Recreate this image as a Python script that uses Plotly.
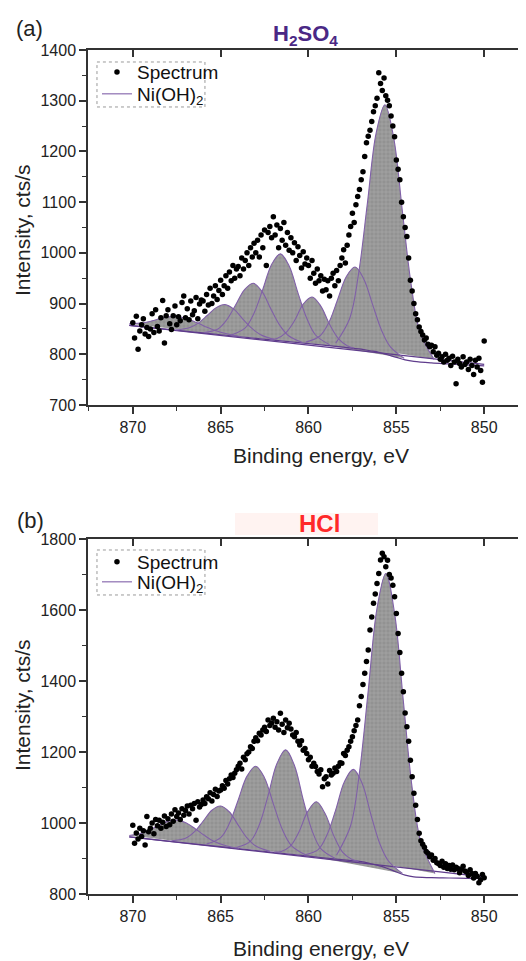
import numpy as np
import plotly.graph_objects as go

# ---------------- data ----------------
ENERGY = np.round(np.linspace(870.0, 850.0, 201), 1)   # binding energy grid, eV (870.0 -> 850.0)

# panel (a) H2SO4 : measured spectrum, cts/s
SPEC_A = [
    862, 832, 875, 810, 846, 858, 870, 840, 853, 835,
    850, 880, 843, 888, 855, 846, 872, 906, 822, 876,
    888, 860, 849, 876, 895, 858, 874, 866, 902, 915,
    872, 890, 868, 905, 878, 886, 912, 870, 899, 907,
    905, 885, 918, 897, 930, 900, 915, 935, 908, 926,
    946, 918, 935, 955, 930, 962, 945, 975, 950, 968,
    973, 955, 990, 968, 985, 1000, 975, 1010, 992, 1019,
    1000, 1025, 992, 1035, 1010, 1045, 975, 1040, 1052, 1030,
    1071, 1035, 1055, 1010, 1048, 1025, 1060, 1015, 1040, 1005,
    1030, 1000, 1020, 985, 1012, 995, 970, 1002, 978, 990,
    975, 950, 985, 960, 940, 968, 945, 955, 925, 948,
    927, 945, 915, 950, 960, 935, 965, 945, 975, 990,
    1006, 980, 1015, 1035, 1052, 1078, 1060, 1095, 1111, 1125,
    1144, 1160, 1190, 1217, 1230, 1242, 1259, 1278, 1290, 1305,
    1355, 1334, 1320, 1345, 1310, 1301, 1290, 1270, 1250, 1229,
    1183, 1165, 1144, 1100, 1071, 1050, 1032, 990, 946, 925,
    900, 880, 868, 854, 845, 838, 828, 832, 820, 815,
    818, 805, 815, 798, 802, 790, 795, 785, 800, 788,
    792, 778, 796, 785, 742, 790, 782, 775, 795, 780,
    785, 770, 790, 778, 760, 788, 775, 792, 768, 745,
    826,
]

# panel (b) HCl : measured spectrum, cts/s
SPEC_B = [
    994, 943, 972, 955, 985, 962, 978, 938, 1018, 975,
    985, 1000, 970, 1010, 992, 1008, 985, 1002, 1020, 990,
    1012, 995, 1025, 1005, 1037, 1018, 1028, 1010, 1040, 1022,
    1035, 1048, 1025, 1050, 1040, 1055, 1008, 1060, 1045, 1052,
    1065, 1055, 1074, 1068, 1085, 1062, 1080, 1095, 1075, 1090,
    1093, 1105, 1098, 1120, 1110, 1125, 1135, 1128, 1140, 1150,
    1160, 1168, 1152, 1185, 1178, 1195, 1200, 1215, 1210, 1230,
    1240, 1232, 1253, 1248, 1262, 1270, 1258, 1290, 1275, 1282,
    1295, 1270, 1285, 1262, 1309, 1278, 1255, 1290, 1268, 1281,
    1265, 1248, 1243, 1255, 1230, 1220, 1232, 1205, 1210, 1196,
    1178, 1185, 1160, 1168, 1159, 1145, 1138, 1150, 1102, 1125,
    1130, 1110, 1148, 1135, 1140, 1155, 1145, 1160, 1170, 1168,
    1196, 1190, 1205, 1215, 1230, 1243, 1260, 1275, 1290, 1330,
    1356, 1390, 1422, 1455, 1487, 1544, 1580, 1619, 1645, 1675,
    1703, 1741, 1760, 1750, 1722, 1740, 1700, 1690, 1670, 1637,
    1590, 1534, 1480, 1422, 1370, 1310, 1271, 1230, 1177, 1130,
    1084, 1050, 1010, 971, 950, 940, 932, 920, 915, 905,
    910, 895, 900, 888, 886, 880, 892, 875, 885, 872,
    880, 870, 882, 868, 875, 872, 860, 870, 878, 865,
    862, 852, 868, 858, 845, 858, 850, 832, 840, 855,
    846,
]

# fitted Ni(OH)2 components, panel (a): energies and intensities of each curve
A_COMP_X = [
    [870.2, 869.4, 868.9, 868.4, 867.9, 867.4, 866.9, 866.4, 865.9, 865.4, 864.6, 863.9],
    [867.55, 866.75, 866.25, 865.75, 865.25, 864.75, 864.25, 863.75, 863.25, 862.75, 861.95],
    [865.95, 865.15, 864.65, 864.15, 863.65, 863.15, 862.65, 862.15, 861.65, 861.15, 860.35],
    [864.4, 863.6, 863.1, 862.6, 862.1, 861.6, 861.1, 860.6, 860.1, 859.6, 858.8],
    [862.2, 861.8, 861.3, 860.8, 860.3, 859.8, 859.3, 858.8, 858.3, 857.8, 857.4],
    [860.15, 859.35, 858.85, 858.35, 857.85, 857.35, 856.85, 856.35, 855.85, 855.35, 854.55],
    [858.45, 857.65, 857.15, 856.65, 856.15, 855.65, 855.15, 854.65, 854.15, 853.65, 852.85],
]
A_COMP_Y = [
    [860, 862, 866, 871, 874, 874, 870, 863, 855, 848, 840, 835],
    [848, 853, 862, 877, 892, 898, 889, 870, 852, 839, 829],
    [843, 850, 868, 897, 927, 940, 924, 890, 858, 837, 823],
    [838, 852, 881, 928, 977, 998, 974, 921, 871, 838, 819],
    [830, 831, 842, 866, 899, 913, 895, 859, 831, 817, 812],
    [824, 836, 862, 907, 953, 972, 948, 898, 848, 815, 792],
    [822, 871, 959, 1097, 1236, 1292, 1227, 1080, 936, 843, 790],
]

# fitted Ni(OH)2 components, panel (b)
B_COMP_X = [
    [870.2, 869.45, 868.95, 868.45, 867.95, 867.45, 866.95, 866.45, 865.95, 865.45, 864.65, 863.95],
    [867.8, 867.0, 866.5, 866.0, 865.5, 865.0, 864.5, 864.0, 863.5, 863.0, 862.2],
    [865.8, 865.0, 864.5, 864.0, 863.5, 863.0, 862.5, 862.0, 861.5, 861.0, 860.2],
    [864.1, 863.3, 862.8, 862.3, 861.8, 861.3, 860.8, 860.3, 859.8, 859.3, 858.5],
    [861.95, 861.55, 861.05, 860.55, 860.05, 859.55, 859.05, 858.55, 858.05, 857.55, 857.15],
    [860.25, 859.45, 858.95, 858.45, 857.95, 857.45, 856.95, 856.45, 855.95, 855.45, 854.65],
    [858.4, 857.6, 857.1, 856.6, 856.1, 855.6, 855.1, 854.6, 854.1, 853.6, 852.8],
]
B_COMP_Y = [
    [965, 972, 983, 995, 1006, 1008, 1000, 984, 966, 950, 935, 928],
    [950, 957, 975, 1005, 1036, 1048, 1031, 994, 958, 935, 920],
    [941, 959, 999, 1065, 1132, 1160, 1127, 1054, 983, 938, 911],
    [931, 949, 995, 1077, 1167, 1206, 1162, 1066, 979, 928, 901],
    [918, 920, 934, 974, 1032, 1060, 1026, 963, 917, 898, 892],
    [910, 925, 966, 1037, 1117, 1151, 1112, 1024, 943, 893, 858],
    [910, 993, 1142, 1373, 1605, 1703, 1591, 1343, 1099, 946, 858],
]

# backgrounds (Shirley-type and linear)
BG_X = [870.2, 868, 866, 864, 862, 860, 858, 857, 856.5, 856, 855.5, 855, 854.5, 854, 853, 852, 851, 850]
A_BG_Y = [857, 849, 842, 835, 828, 821, 814, 810, 807, 804, 799, 794, 789, 786, 783, 781, 779, 777]
B_BG_Y = [961, 949, 938.5, 928, 917, 906.5, 896, 891, 886, 880, 872, 862, 853, 848, 846, 845, 844, 843]
LIN_X = [870.2, 850]
A_LIN_Y = [857, 780]
B_LIN_Y = [961, 848]

X_TICKS = [870, 865, 860, 855, 850]
A_Y_TICKS = [700, 800, 900, 1000, 1100, 1200, 1300, 1400]
B_Y_TICKS = [800, 1000, 1200, 1400, 1600, 1800]

# ---------------- styling ----------------
FONT = "Liberation Sans, Arial, sans-serif"
AX = "#333333"
PURPLE_LINE = "rgb(128,96,168)"
PURPLE_DARK = "rgb(95,60,140)"
FILL = "#999999"

fig = go.Figure()


def add_panel(xa, ya, comp_x, comp_y, bg_y, lin_y, spec_y, leg_spec, leg_fit):
    for cx, cy in zip(comp_x, comp_y):
        fig.add_trace(go.Scatter(
            x=cx, y=cy, mode="lines", xaxis=xa, yaxis=ya,
            line=dict(width=0, shape="spline"), fill="toself", fillcolor=FILL,
            fillpattern=dict(shape="+", bgcolor="#929292", fgcolor="#bdbdbd", size=4, solidity=0.3),
            showlegend=False, hoverinfo="skip"))
    fig.add_trace(go.Scatter(x=LIN_X, y=lin_y, mode="lines", xaxis=xa, yaxis=ya,
                             line=dict(color=PURPLE_DARK, width=1.2), showlegend=False, hoverinfo="skip"))
    fig.add_trace(go.Scatter(x=BG_X, y=bg_y, mode="lines", xaxis=xa, yaxis=ya,
                             line=dict(color=PURPLE_DARK, width=1.2, shape="spline"),
                             showlegend=False, hoverinfo="skip"))
    for i, (cx, cy) in enumerate(zip(comp_x, comp_y)):
        fig.add_trace(go.Scatter(
            x=cx, y=cy, mode="lines", xaxis=xa, yaxis=ya,
            line=dict(color=PURPLE_LINE, width=1.1, shape="spline"),
            name="Ni(OH)<sub>2</sub>", showlegend=(i == 0), legend=leg_fit,
            hoverinfo="skip"))
    fig.add_trace(go.Scatter(
        x=ENERGY, y=spec_y, mode="markers", xaxis=xa, yaxis=ya,
        marker=dict(size=5.5, color="black"), name="Spectrum", legend=leg_spec))


add_panel("x", "y", A_COMP_X, A_COMP_Y, A_BG_Y, A_LIN_Y, SPEC_A, "legend", "legend2")
add_panel("x2", "y2", B_COMP_X, B_COMP_Y, B_BG_Y, B_LIN_Y, SPEC_B, "legend3", "legend4")

# dummy traces so that the mirrored inside-tick axes are drawn
for xa, ya in (("x3", "y3"), ("x4", "y4")):
    fig.add_trace(go.Scatter(x=[None], y=[None], xaxis=xa, yaxis=ya, showlegend=False, hoverinfo="skip"))

XR = [872.55, 847.62]
tickfont = dict(family=FONT, size=16, color="#222")


def xax(anchor):
    return dict(range=XR, anchor=anchor, domain=[0, 1], tickmode="array", tickvals=X_TICKS,
                ticks="outside", ticklen=7, tickwidth=1.5, tickcolor=AX, automargin=False,
                showline=True, linecolor=AX, linewidth=1.5, mirror=True,
                showgrid=False, zeroline=False, tickfont=tickfont,
                minor=dict(tickmode="linear", tick0=850, dtick=2.5, ticks="outside",
                           ticklen=4, tickwidth=1.2, tickcolor=AX))


def yax(anchor, domain, rng, ticks, minor):
    return dict(range=rng, anchor=anchor, domain=domain, tickmode="array", tickvals=ticks,
                ticks="outside", ticklen=7, tickwidth=1.5, tickcolor=AX, automargin=False,
                showline=True, linecolor=AX, linewidth=1.5, mirror=True,
                showgrid=False, zeroline=False, tickfont=tickfont,
                minor=dict(tickmode="linear", tick0=0, dtick=minor, ticks="outside",
                           ticklen=4, tickwidth=1.2, tickcolor=AX))


def xtop(over, anchor):
    return dict(range=XR, overlaying=over, anchor=anchor, side="top", tickmode="array",
                tickvals=X_TICKS, ticks="inside", ticklen=7, tickwidth=1.5, tickcolor=AX,
                automargin=False, showticklabels=False, showline=False, showgrid=False,
                zeroline=False)


def yright(over, anchor, rng, ticks):
    return dict(range=rng, overlaying=over, anchor=anchor, side="right", tickmode="array",
                tickvals=ticks, ticks="inside", ticklen=7, tickwidth=1.5, tickcolor=AX,
                automargin=False, showticklabels=False, showline=False, showgrid=False,
                zeroline=False)


DOM_A = [0.5794, 1.0]
DOM_B = [0.0, 0.4206]


def leg(y):
    return dict(x=0.0205, y=y, xanchor="left", yanchor="top", bgcolor="rgba(0,0,0,0)",
                borderwidth=0, font=dict(family=FONT, size=19, color="#111"), itemwidth=30)


ann_font = dict(family=FONT, color="#222")
annotations = [
    dict(text="(a)", x=-0.1347, y=1.026, font=dict(size=22, **ann_font)),
    dict(text="(b)", x=-0.1324, y=0.4431, font=dict(size=22, **ann_font)),
    dict(text="<b>H<sub>2</sub>SO<sub>4</sub></b>", x=0.4977, y=1.0178,
         font=dict(family=FONT, size=22, color="rgb(74,40,133)")),
    dict(text="<b>HCl</b>", x=0.5274, y=0.4384,
         font=dict(family=FONT, size=24, color="rgb(255,40,40)")),
    dict(text="Binding energy, eV", x=0.532, y=0.5201, font=dict(size=21, **ann_font)),
    dict(text="Binding energy, eV", x=0.532, y=-0.064, font=dict(size=21, **ann_font)),
    dict(text="Intensity, cts/s", x=-0.1507, y=0.7867, textangle=-90, font=dict(size=21, **ann_font)),
    dict(text="Intensity, cts/s", x=-0.1507, y=0.2239, textangle=-90, font=dict(size=21, **ann_font)),
]
for a in annotations:
    a.update(xref="paper", yref="paper", showarrow=False, xanchor="center", yanchor="middle")

shapes = [
    dict(type="rect", xref="paper", yref="paper", x0=0.3356, x1=0.6621, y0=0.4254, y1=0.4514,
         fillcolor="#fff3f1", line=dict(width=0), layer="below"),
    dict(type="rect", xref="paper", yref="paper", x0=0.0205, x1=0.267, y0=0.9325, y1=0.9858,
         line=dict(color="#9a9a9a", width=1, dash="dot")),
    dict(type="rect", xref="paper", yref="paper", x0=0.0205, x1=0.267, y0=0.3543, y1=0.4076,
         line=dict(color="#9a9a9a", width=1, dash="dot")),
]

# the page body adds an 8 px offset, so the margins are shifted by 8 px to compensate
fig.update_layout(
    width=526, height=961,
    margin=dict(l=80, r=8, t=42, b=75, autoexpand=False),
    paper_bgcolor="white", plot_bgcolor="white",
    font=dict(family=FONT, color="#222"),
    xaxis=xax("y"), yaxis=yax("x", DOM_A, [700, 1400], A_Y_TICKS, 50),
    xaxis2=xax("y2"), yaxis2=yax("x2", DOM_B, [800, 1800], B_Y_TICKS, 100),
    xaxis3=xtop("x", "y"), yaxis3=yright("y", "x", [700, 1400], A_Y_TICKS),
    xaxis4=xtop("x2", "y2"), yaxis4=yright("y2", "x2", [800, 1800], B_Y_TICKS),
    legend=leg(0.9964), legend2=leg(0.9704),
    legend3=leg(0.4159), legend4=leg(0.3922),
    annotations=annotations,
    shapes=shapes,
    showlegend=True,
)

fig.write_html("out.html")
